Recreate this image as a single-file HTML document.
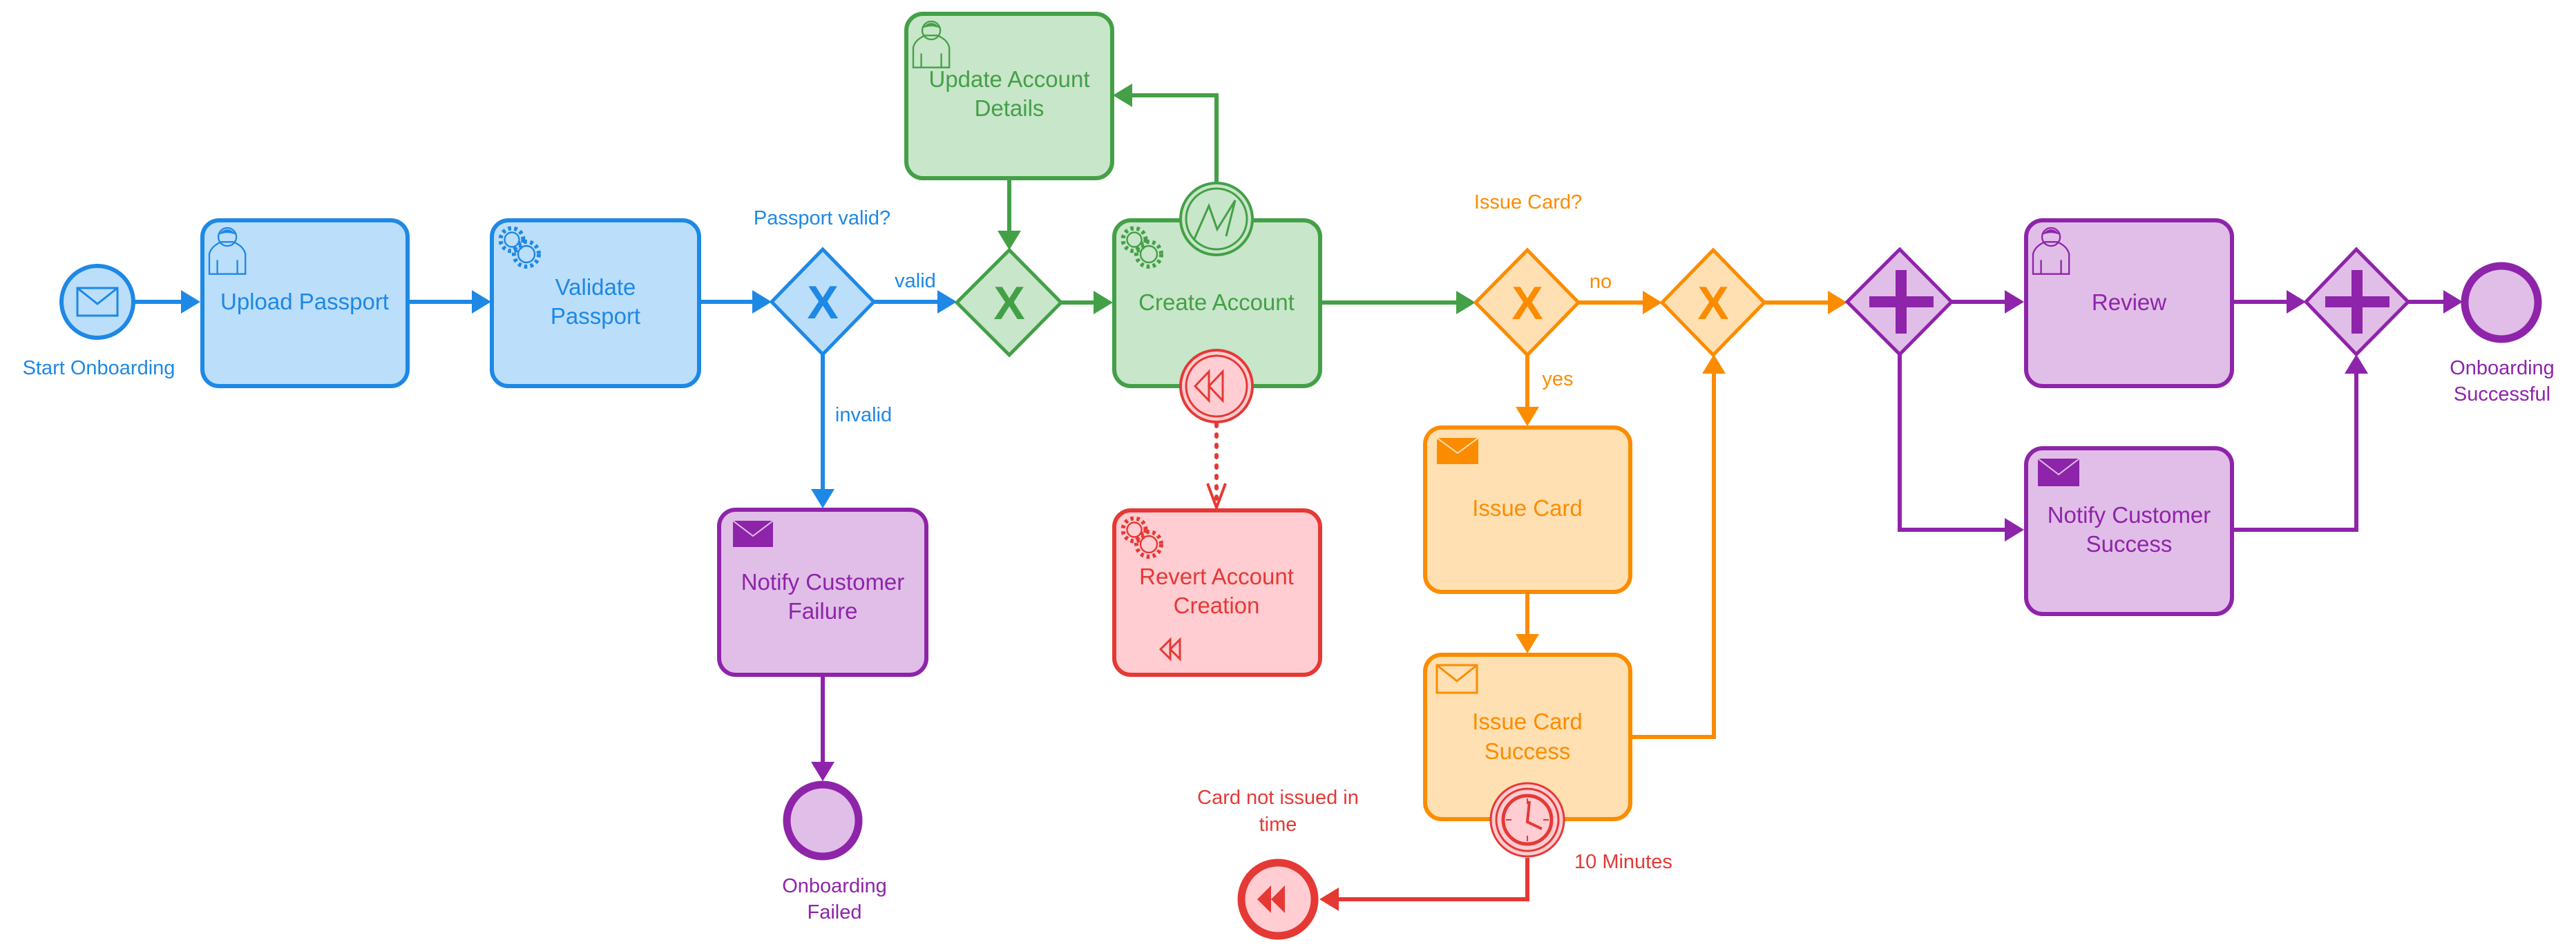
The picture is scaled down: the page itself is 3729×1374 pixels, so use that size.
<!DOCTYPE html>
<html><head><meta charset="utf-8"><style>
html,body{margin:0;padding:0;background:#fff;}
svg{display:block;}
text{font-family:"Liberation Sans",Arial,sans-serif;}
</style></head><body>
<svg width="3729" height="1374" viewBox="0 0 3729 1374" xmlns="http://www.w3.org/2000/svg">
<defs>
<g id="user0"><path d="M0,46 V26 Q2,18 12,14 L24,14 Q34,18 36,26 V46 Z" fill="none" stroke-width="1.6"/><circle cx="18" cy="9" r="9" fill="none" stroke-width="1.6"/><path d="M9,7 Q18,-4 27,7 Q18,3 9,7Z" stroke="none"/><line x1="8" y1="32" x2="8" y2="46" stroke-width="1.6"/><line x1="28" y1="32" x2="28" y2="46" stroke-width="1.6"/></g>
<g id="user"><use href="#user0" transform="scale(1.45)"/></g>
<g id="gear0"><circle cx="14" cy="14" r="11" fill="none" stroke-width="4" stroke-dasharray="3 3"/><circle cx="14" cy="14" r="7" fill="none" stroke-width="1.6"/><circle cx="28" cy="28" r="12" fill="none" stroke-width="4" stroke-dasharray="3 3"/><circle cx="28" cy="28" r="8" fill="none" stroke-width="1.6"/></g>
<g id="gear"><use href="#gear0" transform="scale(1.5)"/></g>
</defs>

<g stroke-width="6" fill="none">
<g stroke="#1e88e5">
<line x1="195" y1="437" x2="264" y2="437"/>
<line x1="590" y1="437" x2="685" y2="437"/>
<line x1="1012" y1="437" x2="1091" y2="437"/>
<line x1="1265" y1="437" x2="1359" y2="437"/>
<line x1="1191" y1="513" x2="1191" y2="710"/>
</g>
<g stroke="#43a047">
<line x1="1461" y1="258" x2="1461" y2="336"/>
<line x1="1536" y1="438" x2="1585" y2="438"/>
<line x1="1911" y1="438" x2="2110" y2="438"/>
<polyline points="1761,264 1761,138 1637,138"/>
</g>
<g stroke="#fb8c00">
<line x1="2285" y1="438" x2="2380" y2="438"/>
<line x1="2211" y1="513" x2="2211" y2="591"/>
<line x1="2211" y1="857" x2="2211" y2="920"/>
<polyline points="2361,1067 2481,1067 2481,540"/>
<line x1="2554" y1="438" x2="2648" y2="438"/>
</g>
<g stroke="#8e24aa">
<line x1="1191" y1="977" x2="1191" y2="1105"/>
<line x1="2825" y1="437" x2="2904" y2="437"/>
<polyline points="2750,513 2750,767 2904,767"/>
<line x1="3231" y1="437" x2="3312" y2="437"/>
<polyline points="3231,767 3411,767 3411,540"/>
<line x1="3486" y1="437" x2="3539" y2="437"/>
</g>
<g stroke="#e53935">
<line x1="1761" y1="614" x2="1761" y2="730" stroke-dasharray="3 12" stroke-linecap="round"/>
<polyline points="1748,700 1761,735 1774,700" stroke-width="4"/>
<polyline points="2211,1242 2211,1302 1936,1302"/>
</g>
</g>
<g fill="#1e88e5">
<polygon points="290,437 262,420 262,454"/>
<polygon points="711,437 683,420 683,454"/>
<polygon points="1117,437 1089,420 1089,454"/>
<polygon points="1385,437 1357,420 1357,454"/>
<polygon points="1191,736 1174,708 1208,708"/>
</g>
<g fill="#43a047">
<polygon points="1461,362 1444,334 1478,334"/>
<polygon points="1611,438 1583,421 1583,455"/>
<polygon points="2136,438 2108,421 2108,455"/>
<polygon points="1611,138 1639,121 1639,155"/>
</g>
<g fill="#fb8c00">
<polygon points="2406,438 2378,421 2378,455"/>
<polygon points="2211,617 2194,589 2228,589"/>
<polygon points="2211,946 2194,918 2228,918"/>
<polygon points="2481,513 2464,541 2498,541"/>
<polygon points="2674,438 2646,421 2646,455"/>
</g>
<g fill="#8e24aa">
<polygon points="1191,1131 1174,1103 1208,1103"/>
<polygon points="2930,437 2902,420 2902,454"/>
<polygon points="2930,767 2902,750 2902,784"/>
<polygon points="3338,437 3310,420 3310,454"/>
<polygon points="3411,513 3394,541 3428,541"/>
<polygon points="3565,437 3537,420 3537,454"/>
</g>
<polygon points="1910,1302 1938,1285 1938,1319" fill="#e53935"/>

<circle cx="141" cy="437" r="52" fill="#bbdefb" stroke="#1e88e5" stroke-width="6"/>
<rect x="112" y="417" width="58" height="40" fill="none" stroke="#1e88e5" stroke-width="3"/>
<polyline points="112,417 141,440 170,417" fill="none" stroke="#1e88e5" stroke-width="3"/>

<rect x="293" y="319" width="297" height="240" rx="24" fill="#bbdefb" stroke="#1e88e5" stroke-width="6"/>
<use href="#user" x="303" y="330" stroke="#1e88e5" fill="#1e88e5"/>
<rect x="712" y="319" width="300" height="240" rx="24" fill="#bbdefb" stroke="#1e88e5" stroke-width="6"/>
<use href="#gear" x="720" y="326" stroke="#1e88e5"/>

<polygon points="1191,361 1265,437 1191,513 1117,437" fill="#bbdefb" stroke="#1e88e5" stroke-width="5"/>
<text x="1191" y="461" text-anchor="middle" font-size="68" font-weight="bold" fill="#1e88e5">X</text>

<rect x="1312" y="20" width="298" height="238" rx="24" fill="#c8e6c9" stroke="#43a047" stroke-width="6"/>
<use href="#user" x="1322" y="31" stroke="#43a047" fill="#43a047"/>
<polygon points="1461,362 1536,438 1461,514 1385,438" fill="#c8e6c9" stroke="#43a047" stroke-width="5"/>
<text x="1461" y="462" text-anchor="middle" font-size="68" font-weight="bold" fill="#43a047">X</text>
<rect x="1613" y="319" width="298" height="240" rx="24" fill="#c8e6c9" stroke="#43a047" stroke-width="6"/>
<use href="#gear" x="1621" y="326" stroke="#43a047"/>
<circle cx="1761" cy="317" r="52" fill="#c8e6c9" stroke="#43a047" stroke-width="4"/>
<circle cx="1761" cy="317" r="44" fill="none" stroke="#43a047" stroke-width="3"/>
<polyline points="1728,348 1750,298 1762,332 1788,290 1775,342" fill="none" stroke="#43a047" stroke-width="3"/>
<circle cx="1761" cy="559" r="52" fill="#ffcdd2" stroke="#e53935" stroke-width="4"/>
<circle cx="1761" cy="559" r="44" fill="none" stroke="#e53935" stroke-width="3"/>
<polygon points="1730,559 1750,538 1750,580" fill="none" stroke="#e53935" stroke-width="3"/>
<polygon points="1750,559 1770,538 1770,580" fill="none" stroke="#e53935" stroke-width="3"/>

<rect x="1613" y="739" width="298" height="238" rx="24" fill="#ffcdd2" stroke="#e53935" stroke-width="6"/>
<use href="#gear" x="1621" y="746" stroke="#e53935"/>
<polygon points="1680,940 1694,926 1694,954" fill="none" stroke="#e53935" stroke-width="3"/>
<polygon points="1694,940 1708,926 1708,954" fill="none" stroke="#e53935" stroke-width="3"/>

<rect x="1041" y="738" width="300" height="239" rx="24" fill="#e1bee7" stroke="#8e24aa" stroke-width="6"/>
<rect x="1061" y="754" width="58" height="38" fill="#8e24aa"/>
<polyline points="1061,754 1090,776 1119,754" fill="none" stroke="#e1bee7" stroke-width="2"/>
<circle cx="1191" cy="1188" r="52" fill="#e1bee7" stroke="#8e24aa" stroke-width="11"/>

<polygon points="2211,362 2285,438 2211,514 2136,438" fill="#ffe0b2" stroke="#fb8c00" stroke-width="5"/>
<text x="2211" y="462" text-anchor="middle" font-size="68" font-weight="bold" fill="#fb8c00">X</text>
<polygon points="2480,362 2554,438 2480,514 2406,438" fill="#ffe0b2" stroke="#fb8c00" stroke-width="5"/>
<text x="2480" y="462" text-anchor="middle" font-size="68" font-weight="bold" fill="#fb8c00">X</text>
<rect x="2063" y="619" width="297" height="238" rx="24" fill="#ffe0b2" stroke="#fb8c00" stroke-width="6"/>
<rect x="2080" y="634" width="60" height="38" fill="#fb8c00"/>
<polyline points="2080,634 2110,656 2140,634" fill="none" stroke="#ffe0b2" stroke-width="2"/>
<rect x="2063" y="948" width="297" height="238" rx="24" fill="#ffe0b2" stroke="#fb8c00" stroke-width="6"/>
<rect x="2080" y="963" width="58" height="40" fill="none" stroke="#fb8c00" stroke-width="3"/>
<polyline points="2080,963 2109,986 2138,963" fill="none" stroke="#fb8c00" stroke-width="3"/>
<circle cx="2211" cy="1187" r="53" fill="#ffcdd2" stroke="#e53935" stroke-width="3"/>
<circle cx="2211" cy="1187" r="45" fill="none" stroke="#e53935" stroke-width="3"/>
<circle cx="2211" cy="1187" r="35" fill="none" stroke="#e53935" stroke-width="5"/>
<g stroke="#e53935" stroke-width="2">
<line x1="2211" y1="1156" x2="2211" y2="1164"/><line x1="2211" y1="1210" x2="2211" y2="1218"/>
<line x1="2180" y1="1187" x2="2188" y2="1187"/><line x1="2234" y1="1187" x2="2242" y2="1187"/>
</g>
<polyline points="2214,1160 2211,1190 2232,1200" fill="none" stroke="#e53935" stroke-width="4"/>
<circle cx="1850" cy="1302" r="53" fill="#ffcdd2" stroke="#e53935" stroke-width="11"/>
<polygon points="1820,1302 1840,1282 1840,1322" fill="#e53935"/>
<polygon points="1840,1302 1860,1282 1860,1322" fill="#e53935"/>

<polygon points="2750,361 2825,437 2750,513 2674,437" fill="#e1bee7" stroke="#8e24aa" stroke-width="5"/>
<rect x="2706" y="429" width="93" height="16" fill="#8e24aa"/><rect x="2744" y="391" width="16" height="92" fill="#8e24aa"/>
<rect x="2933" y="319" width="298" height="240" rx="24" fill="#e1bee7" stroke="#8e24aa" stroke-width="6"/>
<use href="#user" x="2943" y="330" stroke="#8e24aa" fill="#8e24aa"/>
<rect x="2933" y="649" width="298" height="240" rx="24" fill="#e1bee7" stroke="#8e24aa" stroke-width="6"/>
<rect x="2950" y="664" width="60" height="40" fill="#8e24aa"/>
<polyline points="2950,664 2980,687 3010,664" fill="none" stroke="#e1bee7" stroke-width="2"/>
<polygon points="3411,361 3486,437 3411,513 3338,437" fill="#e1bee7" stroke="#8e24aa" stroke-width="5"/>
<rect x="3366" y="429" width="93" height="16" fill="#8e24aa"/><rect x="3404" y="391" width="16" height="92" fill="#8e24aa"/>
<circle cx="3621" cy="438" r="53" fill="#e1bee7" stroke="#8e24aa" stroke-width="11"/>

<g font-size="33" text-anchor="middle">
<text x="441" y="448" fill="#1e88e5">Upload Passport</text>
<text x="862" y="427" fill="#1e88e5">Validate</text>
<text x="862" y="469" fill="#1e88e5">Passport</text>
<text x="1191" y="854" fill="#8e24aa">Notify Customer</text>
<text x="1191" y="896" fill="#8e24aa">Failure</text>
<text x="1461" y="126" fill="#43a047">Update Account</text>
<text x="1461" y="168" fill="#43a047">Details</text>
<text x="1761" y="449" fill="#43a047">Create Account</text>
<text x="1761" y="846" fill="#e53935">Revert Account</text>
<text x="1761" y="888" fill="#e53935">Creation</text>
<text x="2211" y="747" fill="#fb8c00">Issue Card</text>
<text x="2211" y="1056" fill="#fb8c00">Issue Card</text>
<text x="2211" y="1099" fill="#fb8c00">Success</text>
<text x="3082" y="449" fill="#8e24aa">Review</text>
<text x="3082" y="757" fill="#8e24aa">Notify Customer</text>
<text x="3082" y="799" fill="#8e24aa">Success</text>
</g>
<g font-size="29" text-anchor="middle">
<text x="143" y="542" fill="#1e88e5">Start Onboarding</text>
<text x="1190" y="325" fill="#1e88e5">Passport valid?</text>
<text x="1325" y="416" fill="#1e88e5">valid</text>
<text x="1250" y="610" fill="#1e88e5">invalid</text>
<text x="2212" y="302" fill="#fb8c00">Issue Card?</text>
<text x="2317" y="417" fill="#fb8c00">no</text>
<text x="2255" y="558" fill="#fb8c00">yes</text>
<text x="1208" y="1292" fill="#8e24aa">Onboarding</text>
<text x="1208" y="1330" fill="#8e24aa">Failed</text>
<text x="1850" y="1164" fill="#e53935">Card not issued in</text>
<text x="1850" y="1203" fill="#e53935">time</text>
<text x="2279" y="1257" fill="#e53935" text-anchor="start">10 Minutes</text>
<text x="3622" y="542" fill="#8e24aa">Onboarding</text>
<text x="3622" y="580" fill="#8e24aa">Successful</text>
</g>
</svg>
</body></html>
